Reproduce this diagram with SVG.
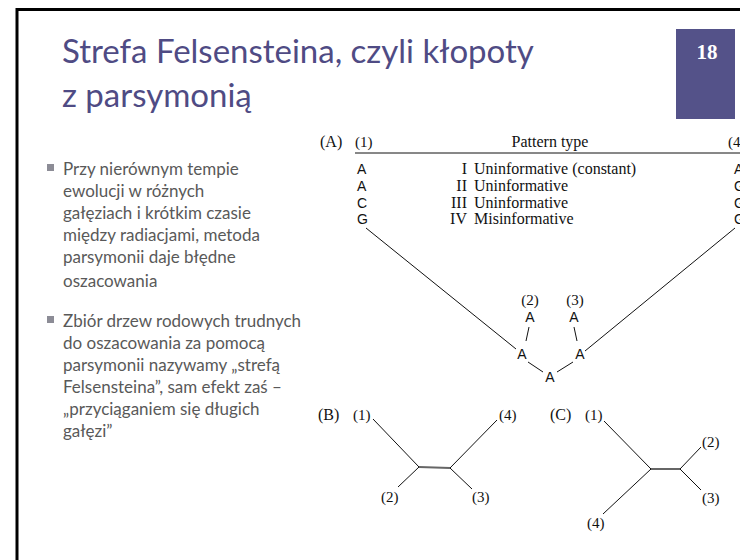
<svg xmlns="http://www.w3.org/2000/svg" width="740" height="560" viewBox="0 0 740 560">
<style>
.title{font-family:Lato,"Open Sans","Noto Sans",sans-serif;font-size:33px;fill:#4f4b84}
.bul{font-family:Lato,"Open Sans","Noto Sans",sans-serif;font-size:17px;fill:#595959}
.sq{fill:#8c8c96}
.ser{font-family:"Liberation Serif","Times New Roman",serif;font-size:16px;fill:#111}
.lab{font-family:"Liberation Serif","Times New Roman",serif;font-size:15px;fill:#111}
.nuc{font-family:"Liberation Sans",Arial,sans-serif;font-size:14px;fill:#111}
.ln{stroke:#111;stroke-width:1;fill:none}
.hb{stroke:#666;stroke-width:2;fill:none}
</style>
<rect x="0" y="0" width="740" height="560" fill="#fff"/>
<path d="M17 560 V9.5 H740" stroke="#000" stroke-width="3" fill="none"/>
<g id="title">
<text class="title" x="62" y="63">Strefa Felsensteina, czyli kłopoty</text>
<text class="title" x="62" y="107">z parsymonią</text>
</g>
<g id="badge">
<rect x="676" y="29" width="59" height="90" fill="#545289"/>
<text x="707" y="59" text-anchor="middle" font-family="Liberation Serif,serif" font-weight="bold" font-size="21" fill="#fff">18</text>
</g>
<g id="bullets">
<rect class="sq" x="47" y="164" width="7" height="7"/>
<text class="bul" x="63" y="175">Przy nierównym tempie</text>
<text class="bul" x="63" y="197">ewolucji w różnych</text>
<text class="bul" x="63" y="219">gałęziach i krótkim czasie</text>
<text class="bul" x="63" y="241">między radiacjami, metoda</text>
<text class="bul" x="63" y="263">parsymonii daje błędne</text>
<text class="bul" x="63" y="287">oszacowania</text>
<rect class="sq" x="47" y="316" width="7" height="7"/>
<text class="bul" x="63" y="327">Zbiór drzew rodowych trudnych</text>
<text class="bul" x="63" y="349">do oszacowania za pomocą</text>
<text class="bul" x="63" y="371">parsymonii nazywamy „strefą</text>
<text class="bul" x="63" y="393">Felsensteina”, sam efekt zaś –</text>
<text class="bul" x="63" y="415">„przyciąganiem się długich</text>
<text class="bul" x="63" y="437">gałęzi”</text>
</g>
<g id="panelA">
<text class="ser" x="320" y="147" font-size="17">(A)</text>
<text class="lab" x="355" y="147">(1)</text>
<text class="ser" x="550" y="147" text-anchor="middle" font-size="17">Pattern type</text>
<text class="lab" x="728" y="147">(4)</text>
<line class="ln" x1="355" y1="153" x2="740" y2="153"/>
<text class="nuc" x="357" y="174">A</text>
<text class="nuc" x="357" y="191">A</text>
<text class="nuc" x="357" y="208">C</text>
<text class="nuc" x="357" y="224">G</text>
<text class="ser" x="467" y="174" text-anchor="end">I</text>
<text class="ser" x="467" y="191" text-anchor="end">II</text>
<text class="ser" x="467" y="208" text-anchor="end">III</text>
<text class="ser" x="467" y="224" text-anchor="end">IV</text>
<text class="ser" x="474" y="174">Uninformative (constant)</text>
<text class="ser" x="474" y="191">Uninformative</text>
<text class="ser" x="474" y="208">Uninformative</text>
<text class="ser" x="474" y="224">Misinformative</text>
<text class="nuc" x="734" y="174">A</text>
<text class="nuc" x="734" y="191">G</text>
<text class="nuc" x="734" y="208">G</text>
<text class="nuc" x="734" y="224">G</text>
<text class="lab" x="530" y="305" text-anchor="middle">(2)</text>
<text class="lab" x="575" y="305" text-anchor="middle">(3)</text>
<text class="nuc" x="530" y="322" text-anchor="middle">A</text>
<text class="nuc" x="574" y="322" text-anchor="middle">A</text>
<text class="nuc" x="522" y="359" text-anchor="middle">A</text>
<text class="nuc" x="580" y="359" text-anchor="middle">A</text>
<text class="nuc" x="550" y="382" text-anchor="middle">A</text>
</g>
<g id="panelB">
<text class="ser" x="318" y="420" font-size="17">(B)</text>
<text class="lab" x="353" y="420">(1)</text>
<text class="lab" x="499" y="420">(4)</text>
<text class="lab" x="381" y="502">(2)</text>
<text class="lab" x="472" y="502">(3)</text>
</g>
<g id="panelC">
<text class="ser" x="550" y="420" font-size="17">(C)</text>
<text class="lab" x="585" y="420">(1)</text>
<text class="lab" x="702" y="447">(2)</text>
<text class="lab" x="702" y="503">(3)</text>
<text class="lab" x="587" y="528">(4)</text>
</g>
<g id="connectors">
<line class="ln" x1="366" y1="228" x2="516" y2="349"/>
<line class="ln" x1="735" y1="228" x2="585" y2="351"/>
<line class="ln" x1="529" y1="327" x2="526" y2="341"/>
<line class="ln" x1="574" y1="327" x2="577" y2="341"/>
<line class="ln" x1="528" y1="362" x2="543" y2="372"/>
<line class="ln" x1="557" y1="372" x2="573" y2="362"/>
<line class="ln" x1="373" y1="419" x2="419" y2="467"/>
<line class="hb" x1="419" y1="467" x2="450" y2="468"/>
<line class="ln" x1="450" y1="468" x2="497" y2="420"/>
<line class="ln" x1="419" y1="467" x2="398" y2="487"/>
<line class="ln" x1="450" y1="468" x2="472" y2="489"/>
<line class="ln" x1="604" y1="421" x2="651" y2="469"/>
<line class="hb" x1="651" y1="469" x2="680" y2="469"/>
<line class="ln" x1="680" y1="469" x2="701" y2="447"/>
<line class="ln" x1="680" y1="469" x2="701" y2="490"/>
<line class="ln" x1="651" y1="469" x2="603" y2="514"/>
</g>
</svg>
